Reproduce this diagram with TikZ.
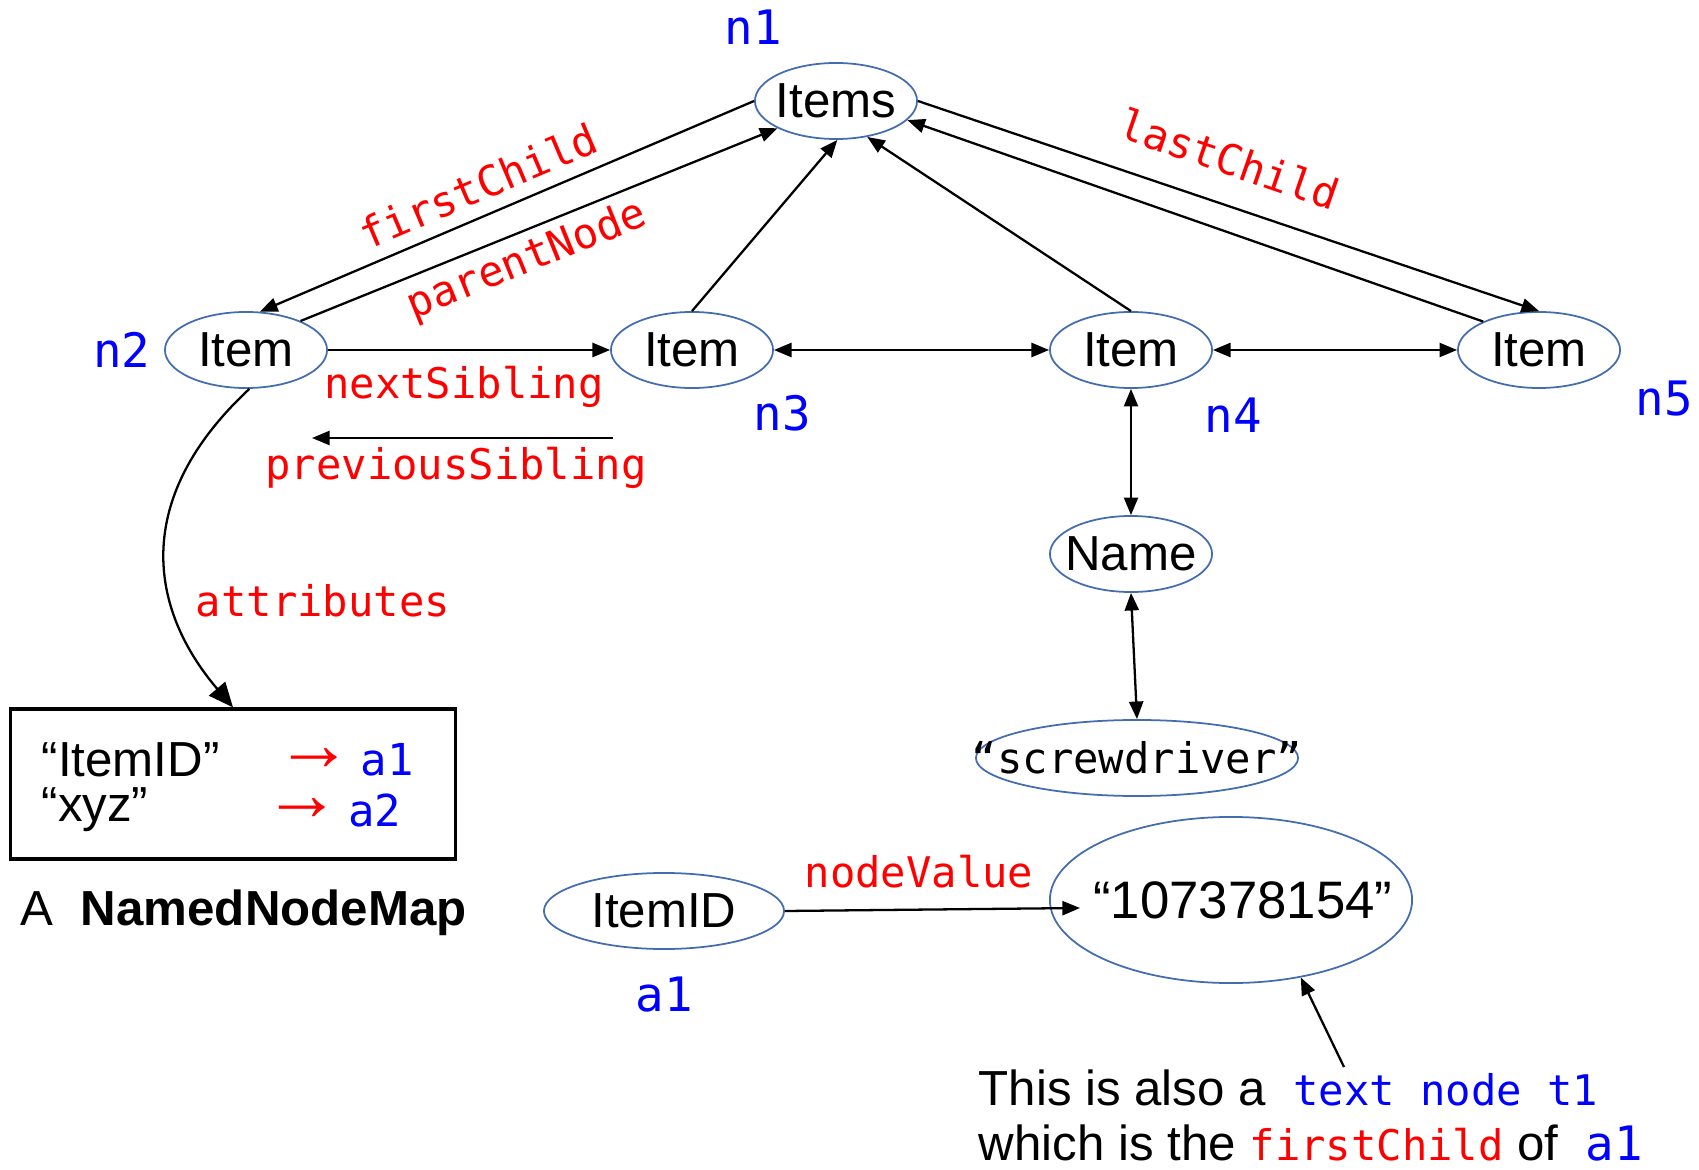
\documentclass[tikz,border=0pt]{standalone}
\usepackage{fontspec}
\setmainfont{Liberation Sans}
\setmonofont{DejaVu Sans Mono}
\newfontfamily\symfont{DejaVu Sans}
\definecolor{nodeblue}{RGB}{68, 108, 176}
\definecolor{relred}{RGB}{255, 0, 0}
\definecolor{idblue}{RGB}{0, 0, 255}
\usetikzlibrary{shapes.geometric, arrows.meta, positioning}

\tikzset{
  elem/.style={ellipse, draw=nodeblue, line width=0.5pt, inner sep=0pt, minimum width=1.62cm, minimum height=0.76cm, font=\fontsize{14}{16}\selectfont},
  idlabel/.style={text=idblue, inner sep=0pt, font=\fontsize{13.5}{16}\selectfont\ttfamily},
  rel/.style={text=relred, inner sep=0pt, font=\fontsize{12}{14}\selectfont\ttfamily},
  plain/.style={inner sep=0pt, font=\fontsize{14}{16}\selectfont},
  maparrow/.style={text=relred, inner sep=0pt, font=\bfseries\fontsize{22}{24}\selectfont},
  link/.style={-{Triangle[length=5pt,width=4pt]}, line width=0.65pt},
  bilink/.style={{Triangle[length=5pt,width=4pt]}-{Triangle[length=5pt,width=4pt]}, line width=0.65pt},
  biglink/.style={-{Triangle[length=7pt,width=6pt]}, line width=0.65pt}
}

\begin{document}
\begin{tikzpicture}[x=0.01cm, y=-0.01cm]
  \useasboundingbox (0,0) rectangle (1699,1170);

  % Element nodes
  \node[elem] (n1) at (836,101) {\makebox[0pt]{Items}};
  \node[elem] (n2) at (246,350) {\makebox[0pt]{Item}};
  \node[elem] (n3) at (692,350) {\makebox[0pt]{Item}};
  \node[elem] (n4) at (1131,350) {\makebox[0pt]{Item}};
  \node[elem] (n5) at (1539,350) {\makebox[0pt]{Item}};
  \node[elem] (name) at (1131,554) {\makebox[0pt]{Name}};
  \node[elem, minimum width=3.22cm] (screw) at (1137,758) {\makebox[0pt]{\ttfamily\fontsize{12}{14}\selectfont “screwdriver”}};

  % Attribute and its text node
  \node[elem, minimum width=2.40cm] (a1) at (664,911) {\makebox[0pt]{ItemID}};
  \node[elem, minimum width=3.62cm, minimum height=1.66cm, font=\fontsize{15}{18}\selectfont] (t1) at (1231,900) {\makebox[0pt]{\hspace*{0.24cm}\raisebox{-0.08cm}{“107378154”}}};

  % Node ids
  \node[idlabel] (lab1) at (753,27) {n1};
  \node[idlabel] (lab2) at (122,350) {n2};
  \node[idlabel] (lab3) at (782,413) {n3};
  \node[idlabel] (lab4) at (1233,415) {n4};
  \node[idlabel] (lab5) at (1664,399) {n5};
  \node[idlabel] (laba1) at (664,995) {a1};

  % Tree links
  \draw[link] (n1.west) -- (n2.70);
  \draw[link] (n2.28) -- (n1.205);
  \draw[link] (n3.north) -- (n1.-88);
  \draw[link] (n4.north) -- (n1.-49);
  \draw[link] (n1.east) -- (n5.north);
  \draw[link] (n5.153) -- (n1.-15);
  \draw[link] (n2.east) -- (n3.west);
  \draw[bilink] (n3.east) -- (n4.west);
  \draw[bilink] (n4.east) -- (n5.west);
  \draw[bilink] (n4.south) -- (name.north);
  \draw[bilink] (name.south) -- (screw.north);

  \node[rel, rotate=23] (fc) at (478,186) {firstChild};
  \node[rel, rotate=22] (pn) at (527,261) {parentNode};
  \node[rel, rotate=-19] (lc) at (1230,159) {lastChild};
  \node[rel] (ns) at (464,387) {nextSibling};
  \node[rel] (ps) at (456,468) {previousSibling};
  \coordinate (psfrom) at (613,438);
  \coordinate (psto) at (312,438);
  \draw[link] (psfrom) -- (psto);

  % NamedNodeMap
  \node[draw, line width=0.9pt, minimum width=4.44cm, minimum height=1.50cm, inner sep=0pt] (map) at (233,784) {};
  \node[plain, anchor=west] (key1) at (41,760) {“ItemID”};
  \node[plain, anchor=west] (key2) at (41,810) {“xyz”};
  \node[maparrow] (to1) at (314,760) {→};
  \node[maparrow] (to2) at (302,810) {→};
  \node[idlabel, font=\fontsize{12.5}{15}\selectfont\ttfamily] (ref1) at (387,760) {a1};
  \node[idlabel, font=\fontsize{12.5}{15}\selectfont\ttfamily] (ref2) at (375,810) {a2};
  \node[plain, anchor=west] (cap) at (20,913) {A\ \ \textbf{NamedNodeMap}};

  \draw[biglink] (n2.-85) .. controls (130,500) and (150,610) .. (map.north);
  \node[rel] (at) at (323,601) {attributes};

  % nodeValue
  \coordinate (valtip) at (1080,908);
  \draw[link] (a1.east) -- (valtip);
  \node[rel] (nv) at (919,872) {nodeValue};

  % Note
  \node[plain, anchor=base west] (note1) at (978,1105) {This is also a\ \ \textcolor{idblue}{\ttfamily\fontsize{12}{14}\selectfont text node t1}};
  \node[plain, anchor=base west] (note2) at (978,1160) {which is the \textcolor{relred}{\ttfamily\fontsize{12}{14}\selectfont firstChild} of\ \ \textcolor{idblue}{\ttfamily\fontsize{13.5}{16}\selectfont a1}};
  \coordinate (ptr) at (1344,1067);
  \draw[link] (ptr) -- (t1.-48);
\end{tikzpicture}
\end{document}
